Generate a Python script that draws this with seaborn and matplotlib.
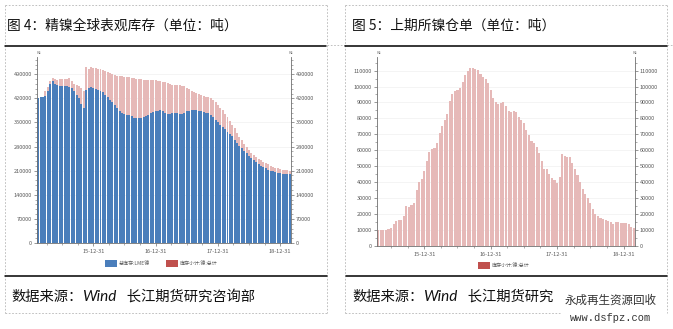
import numpy as np
import pandas as pd
import matplotlib
matplotlib.use("Agg")
import matplotlib.pyplot as plt
import seaborn as sns
from matplotlib.patches import Rectangle
from matplotlib.lines import Line2D
from matplotlib.ticker import FixedLocator

# ---------------- data ----------------
tick_labels = ["15-12-31", "16-12-31", "17-12-31", "18-12-31"]
tick_index = [23, 49, 75, 101]

# LME nickel stock (blue), biweekly from Feb 2015
lme = [420000, 423000, 425000, 428000, 440000, 462000, 470000, 462000, 458000, 456000,
       457000, 455000, 456000, 454000, 450000, 440000, 430000, 420000, 405000, 392000,
       445000, 450000, 452000, 450000, 446000, 445000, 440000, 438000, 430000, 425000,
       415000, 408000, 400000, 392000, 383000, 378000, 375000, 373000, 372000, 368000,
       364000, 362000, 362000, 364000, 366000, 370000, 373000, 377000, 380000, 382000,
       384000, 385000, 383000, 378000, 374000, 375000, 377000, 377000, 376000, 375000,
       374000, 376000, 382000, 384000, 386000, 386000, 385000, 384000, 382000, 380000,
       378000, 377000, 372000, 365000, 358000, 350000, 343000, 338000, 330000, 323000,
       317000, 310000, 298000, 290000, 282000, 276000, 268000, 261000, 254000, 248000,
       241000, 236000, 230000, 224000, 220000, 217000, 213000, 210000, 208000, 206000,
       204000, 202000, 201000, 200000, 199000, 199000]

# pink series top in the left chart (global total)
total_left = [420000, 423000, 425000, 440000, 452000, 470000, 478000, 475000, 474000, 476000,
              477000, 476000, 475000, 478000, 470000, 463000, 460000, 455000, 450000, 440000,
              512000, 505000, 510000, 508000, 507000, 506000, 505000, 503000, 500000, 496000,
              493000, 490000, 487000, 485000, 484000, 484000, 483000, 483000, 482000, 480000,
              478000, 477000, 476000, 475000, 474000, 474000, 473000, 473000, 473000, 472000,
              471000, 470000, 468000, 466000, 464000, 462000, 460000, 459000, 459000, 458000,
              457000, 455000, 451000, 447000, 442000, 438000, 435000, 432000, 430000, 428000,
              425000, 423000, 420000, 415000, 408000, 400000, 392000, 385000, 375000, 365000,
              355000, 344000, 333000, 320000, 308000, 298000, 288000, 278000, 270000, 262000,
              255000, 249000, 244000, 240000, 236000, 232000, 228000, 225000, 222000, 219000,
              217000, 215000, 213000, 212000, 211000, 210000]

# SHFE nickel warrants (from index 5 on)
shfe_start = 5
shfe = [10000, 10100, 9900, 10200, 10800, 11500, 13500, 15500, 16000, 16500,
        18500, 25000, 24500, 25500, 27000, 35000, 40000, 42000, 47000, 53000,
        59000, 61000, 61500, 64500, 71000, 75000, 79000, 83000, 91000, 95500,
        97000, 97500, 99000, 103000, 107000, 109500, 111500, 111500, 111000, 110500,
        108000, 106000, 104500, 102000, 98000, 93000, 90000, 89000, 89500, 90000,
        87500, 84500, 84000, 84500, 84000, 81000, 79000, 77000, 73000, 69500,
        66000, 64500, 62000, 58000, 53000, 48000, 48500, 45000, 42500, 41500,
        39500, 43000, 57500, 56500, 56000, 55500, 52000, 48000, 44500, 40000,
        36000, 32500, 30000, 27000, 23000, 20000, 18500, 17500, 16800, 16500,
        15500, 15000, 13800, 15200, 14800, 14600, 14500, 14200, 13500, 12000,
        11000]

left_ticks = [0, 70000, 140000, 210000, 280000, 350000, 420000, 490000]
right_ticks = [0, 10000, 20000, 30000, 40000, 50000, 60000, 70000, 80000, 90000, 100000, 110000]

title_left = "图 4：精镍全球表观库存（单位：吨）"
title_right = "图 5：上期所镍仓单（单位：吨）"
source_prefix = "数据来源："
source_wind = "Wind"
source_left_rest = "   长江期货研究咨询部"
source_right_rest = "   长江期货研究"
legend_lme = "总库存:LME镍"
legend_shfe = "库存小计:镍:总计"

BLUE = "#4A7EBB"
PINK = "#E6B9B8"
RED = "#C0504D"
GRAY = "#595959"

# ---------------- figure ----------------
sns.set_theme(style="white")
plt.rcParams["font.family"] = ["Noto Sans CJK SC", "DejaVu Sans"]

W, H = 673, 329
fig = plt.figure(figsize=(W / 100, H / 100), dpi=100)
fig.patch.set_facecolor("white")
renderer = fig.canvas.get_renderer()


def fx(x):
    return x / W


def fy(y):
    return 1 - y / H


def axes_px(x0, y0, x1, y1):
    return fig.add_axes([fx(x0), fy(y1), (x1 - x0) / W, (y1 - y0) / H])


def hline(x0, x1, y, **kw):
    fig.add_artist(Line2D([fx(x0), fx(x1)], [fy(y), fy(y)], transform=fig.transFigure, **kw))


def vline(x, y0, y1, **kw):
    fig.add_artist(Line2D([fx(x), fx(x)], [fy(y0), fy(y1)], transform=fig.transFigure, **kw))


def style_axes(ax, ymax, yticks, n_minor, xlo, xhi):
    ax.set_xlim(xlo, xhi)
    ax.set_ylim(0, ymax)
    ax.set_yticks(yticks)
    step = yticks[1] - yticks[0]
    minors = [v for v in np.arange(0, ymax, step / n_minor) if v not in yticks]
    ax.yaxis.set_minor_locator(FixedLocator(minors))
    ax.set_xticks(tick_index)
    ax.set_xticklabels(tick_labels)
    xm = [t + k * 6.5 for t in [tick_index[0] - 26] + tick_index for k in (1, 2, 3)]
    ax.xaxis.set_minor_locator(FixedLocator([v for v in xm if xlo < v < xhi]))
    ax.set_xlabel("")
    ax.set_ylabel("")
    for s in ["left", "right", "bottom"]:
        ax.spines[s].set_visible(True)
        ax.spines[s].set_color("#6f6f6f")
        ax.spines[s].set_linewidth(0.6)
    ax.spines["top"].set_visible(False)
    ax.tick_params(axis="y", which="both", left=True, right=True, labelleft=True,
                   labelright=True, direction="out", colors="#6f6f6f", labelcolor=GRAY,
                   labelsize=4, pad=1)
    ax.tick_params(axis="y", which="major", length=2.5, width=0.5)
    ax.tick_params(axis="y", which="minor", length=1.2, width=0.4)
    ax.tick_params(axis="x", which="both", bottom=True, direction="out", colors="#6f6f6f",
                   labelcolor=GRAY, labelsize=4, pad=1.5)
    ax.tick_params(axis="x", which="major", length=2.5, width=0.5)
    ax.tick_params(axis="x", which="minor", length=1.2, width=0.4)
    ax.yaxis.grid(True, color="#f0f0f0", linewidth=0.5)
    ax.set_axisbelow(True)
    ax.set_facecolor("white")


BAR_W = 0.82

# ---- left chart ----
axL = axes_px(37, 57, 291, 243)
dfL = pd.DataFrame({"idx": np.arange(len(lme)), "lme": lme, "total": total_left})
sns.barplot(data=dfL, x="idx", y="total", native_scale=True, color=PINK, saturation=1,
            width=BAR_W, errorbar=None, linewidth=0, ax=axL)
sns.barplot(data=dfL, x="idx", y="lme", native_scale=True, color=BLUE, saturation=1,
            width=BAR_W, errorbar=None, linewidth=0, ax=axL)
style_axes(axL, 540000, left_ticks, 5, -0.5, len(lme) - 0.5)

# ---- right chart ----
axR = axes_px(377, 57, 635, 246)
dfR = pd.DataFrame({"idx": np.arange(shfe_start, shfe_start + len(shfe)), "shfe": shfe})
sns.barplot(data=dfR, x="idx", y="shfe", native_scale=True, color=PINK, saturation=1,
            width=BAR_W, errorbar=None, linewidth=0, ax=axR)
style_axes(axR, 118500, right_ticks, 2, shfe_start - 0.5, shfe_start + len(shfe) - 0.5)

# unit markers above the axes
for x in (38, 290, 378, 634):
    fig.text(fx(x), fy(55), "吨", fontsize=2.5, color=GRAY, ha="center", va="bottom")


# ---- legends ----
def legend_item(x, y, color, label):
    fig.add_artist(Rectangle((fx(x), fy(y + 3.5)), 12 / W, 7 / H, transform=fig.transFigure,
                             facecolor=color, edgecolor="none"))
    fig.text(fx(x + 14), fy(y), label, fontsize=3.6, color=GRAY, ha="left", va="center")


legend_item(105, 263, BLUE, legend_lme)
legend_item(166, 263, RED, legend_shfe)
legend_item(478, 265, RED, legend_shfe)

# ---- frames / rules ----
dash = dict(color="#b5b5b5", linewidth=0.6, linestyle=(0, (2, 2)))
for x0, x1 in ((5, 327), (345, 667)):
    hline(x0, x1, 5, **dash)
    vline(x0, 5, 313, **dash)
    vline(x1, 5, 313, **dash)
hline(5, 327, 313, **dash)
hline(345, 560, 313, **dash)
hline(327, 345, 45, **dash)
hline(667, 673, 45, **dash)

solid = dict(color="black", linewidth=1.1)
hline(5, 326, 46, **solid)
hline(345, 667, 46, **solid)
hline(5, 327, 276, **solid)
hline(346, 667, 276, **solid)

# ---- texts ----
TITLE_FS = 9.9
fig.text(fx(7), fy(26), title_left, fontsize=TITLE_FS, color="#111111", ha="left", va="center")
fig.text(fx(352), fy(26), title_right, fontsize=TITLE_FS, color="#111111", ha="left", va="center")


def seq_text(x_px, y_px, pieces):
    x = x_px
    for s, kw in pieces:
        t = fig.text(fx(x), fy(y_px), s, ha="left", va="center", color="#111111", **kw)
        bb = t.get_window_extent(renderer=renderer)
        x += bb.width


base = dict(fontsize=10.3)
wind = dict(fontsize=11, style="italic", family="Lato")
seq_text(11, 297, [(source_prefix, base), (source_wind, wind), (source_left_rest, base)])
seq_text(352, 297, [(source_prefix, base), (source_wind, wind), (source_right_rest, base)])

# watermark
fig.add_artist(Rectangle((fx(558), fy(329)), 115 / W, 41 / H, transform=fig.transFigure,
                         facecolor="white", edgecolor="none"))
fig.text(fx(611), fy(300), "永成再生资源回收", fontsize=8.3, color="#333333",
         ha="center", va="center")
fig.text(fx(611), fy(318), "www.dsfpz.com", fontsize=7.5, color="#333333",
         ha="center", va="center", family="Liberation Mono")

fig.savefig("out.png", dpi=100, facecolor="white")
